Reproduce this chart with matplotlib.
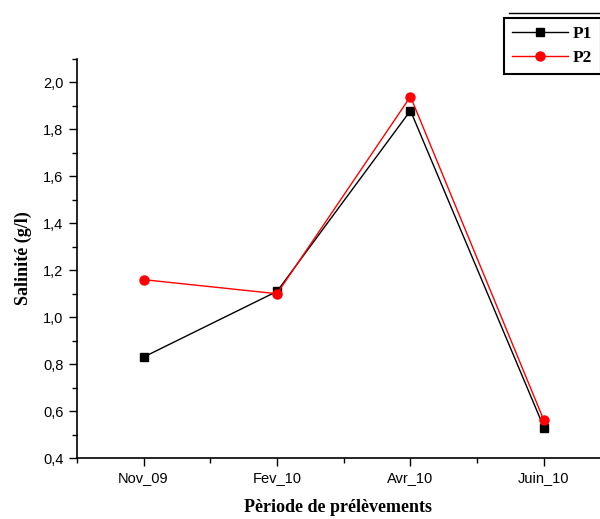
import matplotlib.pyplot as plt
from matplotlib.ticker import MultipleLocator, FuncFormatter
from matplotlib.lines import Line2D

# Data
periods = ['Nov_09', 'Fev_10', 'Avr_10', 'Juin_10']
p1 = [0.83, 1.11, 1.88, 0.53]
p2 = [1.16, 1.10, 1.94, 0.56]

fig = plt.figure(figsize=(6, 5.19), dpi=100)
ax = fig.add_axes([0.128, 0.1175, 0.872, 0.7688])

x = range(1, len(periods) + 1)
ax.plot(x, p1, color='black', marker='s', markersize=6, linewidth=1, label='P1')
ax.plot(x, p2, color='red', marker='o', markersize=6.5, linewidth=1, label='P2')

ax.set_xlim(0.5, 4.42)
ax.set_ylim(0.4, 2.1)
ax.set_xticks(list(x))
ax.set_xticklabels(periods)
ax.xaxis.set_minor_locator(MultipleLocator(0.5))
ax.yaxis.set_major_locator(MultipleLocator(0.2))
ax.yaxis.set_minor_locator(MultipleLocator(0.1))
ax.yaxis.set_major_formatter(FuncFormatter(lambda v, p: f'{v:.1f}'.replace('.', ',')))

for s in ['top', 'right']:
    ax.spines[s].set_visible(False)
for s in ['left', 'bottom']:
    ax.spines[s].set_linewidth(1.2)
ax.tick_params(which='major', direction='out', length=6, width=1, labelsize=10.5)
ax.tick_params(which='minor', direction='out', length=3.5, width=1)
for lab in ax.get_xticklabels() + ax.get_yticklabels():
    lab.set_family('Liberation Sans')

ax.set_xlabel('Pèriode de prélèvements', family='Liberation Serif', fontweight='bold',
              fontsize=13, labelpad=10)
ax.set_ylabel('Salinité (g/l)', family='Liberation Serif', fontweight='bold',
              fontsize=13, labelpad=8)

leg = fig.legend(loc='upper right', bbox_to_anchor=(1.002, 0.966), borderaxespad=0,
                 frameon=True, fancybox=False, edgecolor='black', framealpha=1,
                 prop={'family': 'Liberation Serif', 'weight': 'bold', 'size': 12.5},
                 handlelength=3.2, borderpad=0.5, labelspacing=0.4, handletextpad=0.3)
leg.get_frame().set_linewidth(1.5)
# thin line above the legend box
fig.add_artist(Line2D([0.848, 1.0], [0.974, 0.974], color='black', linewidth=1))

fig.savefig('out.png', dpi=100)
